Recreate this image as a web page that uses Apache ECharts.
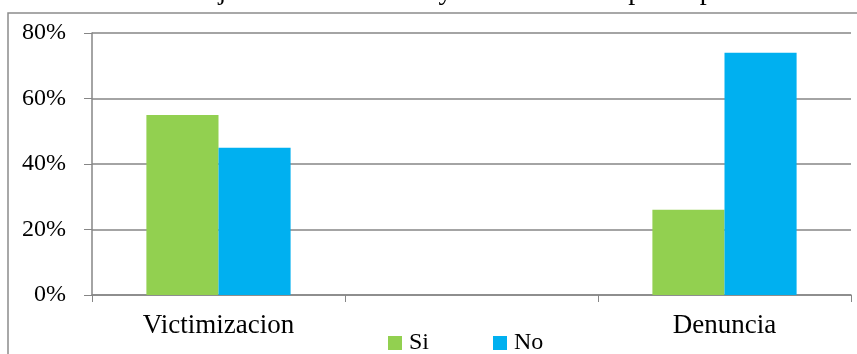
<!DOCTYPE html>
<html>
<head>
<meta charset="utf-8">
<script src="https://cdn.jsdelivr.net/npm/echarts@6/dist/echarts.min.js"></script>
<style>
  html, body { margin: 0; padding: 0; background: #fff; }
  #chart { width: 857px; height: 354px; }
</style>
</head>
<body>
<div id="chart"></div>
<script>
// datos
const categories = ["Victimizacion", "", "Denuncia"];
const siValues = [55, null, 26];
const noValues = [45, null, 74];
const titleText = "Gráfico 3. Porcentaje de victimización y denuncia de la participación ciudadana";

const serif = "Liberation Serif";
const chart = echarts.init(document.getElementById("chart"));

chart.setOption({
  animation: false,
  backgroundColor: "#fff",
  textStyle: { fontFamily: serif },
  graphic: [
    {
      // titulo recortado arriba
      type: "text",
      x: 0,
      y: -8,
      style: { text: titleText, font: "28px " + serif, fill: "#000", verticalAlign: "middle" }
    },
    {
      // borde del area del grafico
      type: "rect",
      shape: { x: 8, y: 13, width: 900, height: 400 },
      style: { fill: "none", stroke: "#8c8c8c", lineWidth: 1.5 },
      z: -1
    }
  ],
  grid: { left: 92, right: 6, top: 33, bottom: 59 },
  legend: {
    left: 383,
    bottom: -6,
    itemWidth: 14,
    itemHeight: 14,
    itemGap: 64,
    icon: "rect",
    textStyle: { fontSize: 24, color: "#000", fontFamily: serif, padding: [0, 0, 0, 2] },
    data: ["Si", "No"]
  },
  xAxis: {
    type: "category",
    data: categories,
    axisLine: { lineStyle: { color: "#868686", width: 1.5 } },
    axisTick: { show: true, length: 7, lineStyle: { color: "#868686" } },
    axisLabel: { fontSize: 27, color: "#000", margin: 17 }
  },
  yAxis: {
    type: "value",
    min: 0,
    max: 80,
    interval: 20,
    axisLine: { show: true, lineStyle: { color: "#868686", width: 1.5 } },
    axisTick: { show: true, length: 8, lineStyle: { color: "#868686" } },
    axisLabel: { fontSize: 24, color: "#000", margin: 26, formatter: "{value}%" },
    splitLine: { lineStyle: { color: "#868686", width: 1.5 } }
  },
  series: [
    {
      name: "Si",
      type: "bar",
      data: siValues,
      itemStyle: { color: "#92D050" },
      barGap: "0%",
      barCategoryGap: "43%"
    },
    {
      name: "No",
      type: "bar",
      data: noValues,
      itemStyle: { color: "#00B0F0" }
    }
  ]
});
</script>
</body>
</html>
